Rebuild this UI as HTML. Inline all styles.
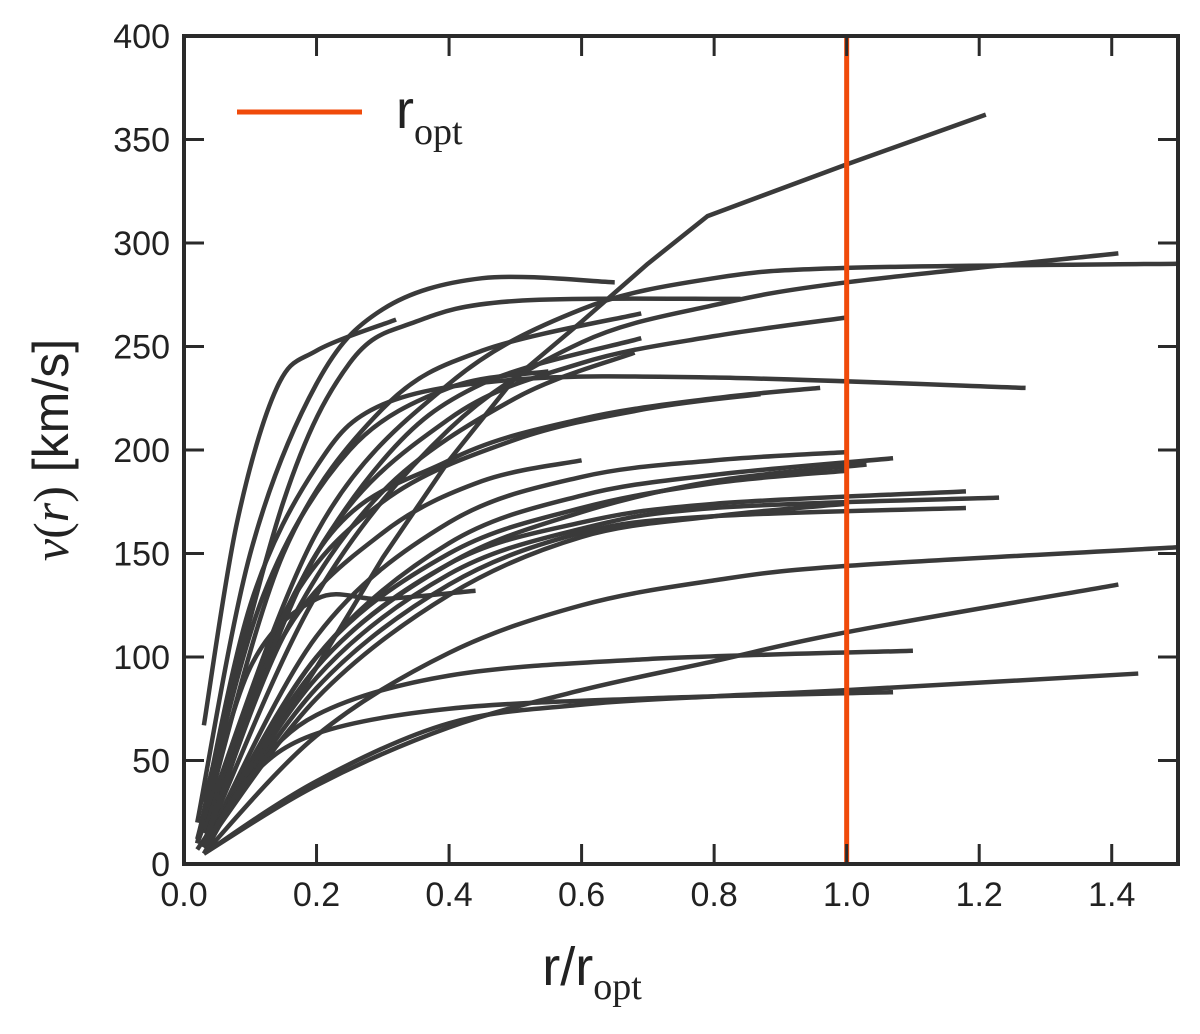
<!DOCTYPE html>
<html><head><meta charset="utf-8"><style>
body{margin:0;background:#fff;}
svg text{font-family:"Liberation Sans",sans-serif;}
</style></head><body>
<svg id="chart" width="1200" height="1034" viewBox="0 0 1200 1034" style="position:absolute;left:0;top:0">
<g id="curves"></g>
<g id="axes"></g>
</svg>
<script>
const xTicks=[0.0,0.2,0.4,0.6,0.8,1.0,1.2,1.4];
const yTicks=[0,50,100,150,200,250,300,350,400];
const rOpt=1.0;
const c1=[[0.02,7],[0.1,45],[0.2,95],[0.3,148],[0.4,195],[0.5,235],[0.6,262],[0.7,290],[0.79,313],[1.0,338],[1.21,362]];
const c2=[[0.02,20],[0.1,150],[0.2,232],[0.3,268],[0.45,283],[0.65,281]];
const c3=[[0.03,67],[0.08,165],[0.14,230],[0.2,248],[0.32,263]];
const c4=[[0.03,30],[0.15,175],[0.25,242],[0.35,262],[0.5,272],[0.84,273]];
const c5=[[0.02,10],[0.2,160],[0.4,232],[0.6,268],[0.8,283],[1.0,288],[1.5,290]];
const c6=[[0.03,10],[0.2,130],[0.4,210],[0.6,252],[0.8,270],[1.0,281],[1.41,295]];
const c7=[[0.03,10],[0.2,150],[0.4,215],[0.6,242],[0.8,255],[1.0,264]];
const c8=[[0.02,10],[0.1,125],[0.2,192],[0.3,222],[0.5,234],[0.8,235],[1.27,230]];
const c9=[[0.03,20],[0.15,150],[0.3,220],[0.45,248],[0.69,266]];
const c10=[[0.03,15],[0.15,120],[0.3,195],[0.45,232],[0.69,254]];
const c11=[[0.03,10],[0.15,110],[0.3,180],[0.5,225],[0.68,247]];
const c12=[[0.03,10],[0.15,120],[0.3,175],[0.5,205],[0.7,220],[0.87,227]];
const c13=[[0.03,10],[0.2,150],[0.4,195],[0.6,215],[0.8,225],[0.96,230]];
const c14=[[0.03,8],[0.2,110],[0.4,165],[0.6,187],[0.8,195],[1.0,199]];
const c15=[[0.03,8],[0.2,100],[0.4,155],[0.6,178],[0.8,188],[1.07,196]];
const c16=[[0.03,8],[0.2,95],[0.4,145],[0.6,170],[0.8,185],[1.03,193]];
const c17=[[0.03,8],[0.2,100],[0.4,150],[0.6,172],[0.8,184],[1.0,190]];
const c18=[[0.03,8],[0.2,95],[0.4,145],[0.6,165],[0.8,174],[1.18,180]];
const c19=[[0.03,8],[0.2,90],[0.4,140],[0.6,162],[0.8,172],[1.23,177]];
const c20=[[0.03,8],[0.2,85],[0.4,135],[0.6,160],[0.8,168],[1.18,172]];
const c21=[[0.03,8],[0.2,80],[0.4,130],[0.6,158],[0.8,168],[1.0,174]];
const c22=[[0.02,10],[0.1,95],[0.2,128],[0.3,128],[0.44,132]];
const c23=[[0.03,5],[0.2,62],[0.4,102],[0.6,125],[0.8,137],[1.0,144],[1.5,153]];
const c24=[[0.03,5],[0.2,38],[0.4,66],[0.6,84],[0.8,98],[1.0,112],[1.41,135]];
const c25=[[0.03,5],[0.1,42],[0.2,72],[0.4,91],[0.7,99],[1.1,103]];
const c26=[[0.03,5],[0.2,40],[0.4,68],[0.6,77],[0.8,81],[1.0,84],[1.44,92]];
const c27=[[0.03,8],[0.1,42],[0.2,63],[0.4,75],[0.7,80],[1.07,83]];
const c28=[[0.03,8],[0.15,110],[0.3,160],[0.45,185],[0.6,195]];
const c29=[[0.02,12],[0.12,130],[0.25,200],[0.4,230],[0.55,238]];
const curves=[c1,c2,c3,c4,c5,c6,c7,c8,c9,c10,c11,c12,c13,c14,c15,c16,c17,c18,c19,c20,c21,c22,c23,c24,c25,c26,c27,c28,c29];

const L=184,R=1178,T=36,B=864;
const sx=x=>L+x/1.5*(R-L);
const sy=v=>B-v/400*(B-T);
const NS="http://www.w3.org/2000/svg";
function mk(tag,attrs,parent){const e=document.createElementNS(NS,tag);for(const k in attrs)e.setAttribute(k,attrs[k]);parent.appendChild(e);return e;}
const cg=document.getElementById('curves');
function smooth(pts){
  const p=pts.map(([x,v])=>[sx(x),sy(v)]);
  let d=`M${p[0][0]},${p[0][1]}`;
  for(let i=0;i<p.length-1;i++){
    const p0=p[i-1]||p[i],p1=p[i],p2=p[i+1],p3=p[i+2]||p2;
    const c1x=p1[0]+(p2[0]-p0[0])/6,c1y=p1[1]+(p2[1]-p0[1])/6;
    const c2x=p2[0]-(p3[0]-p1[0])/6,c2y=p2[1]-(p3[1]-p1[1])/6;
    d+=` C${c1x},${c1y} ${c2x},${c2y} ${p2[0]},${p2[1]}`;
  }
  return d;
}
function linear(pts){return pts.map(([x,v],i)=>(i?'L':'M')+sx(x)+','+sy(v)).join(' ');}
curves.forEach((c,i)=>{
  const e=mk('path',{d:(i===0?linear(c):smooth(c)),fill:'none',stroke:'#3a3a3a','stroke-width':4.5,'stroke-linejoin':'round'},cg);
  
  
});
const ro=mk('line',{x1:sx(rOpt),x2:sx(rOpt),y1:T,y2:B,stroke:'#f04a0a','stroke-width':5},cg);



const ag=document.getElementById('axes');
xTicks.forEach(t=>{
  const x=sx(t);
  mk('line',{x1:x,x2:x,y1:B,y2:B-20,stroke:'#2a2a2a','stroke-width':3},ag);
  mk('line',{x1:x,x2:x,y1:T,y2:T+20,stroke:'#2a2a2a','stroke-width':3},ag);
  const tx=mk('text',{x:x,y:B+42,'text-anchor':'middle','font-size':34,fill:'#222'},ag);
  tx.textContent=t.toFixed(1);
  
  
});
yTicks.forEach(t=>{
  const y=sy(t);
  mk('line',{x1:L,x2:L+20,y1:y,y2:y,stroke:'#2a2a2a','stroke-width':3},ag);
  mk('line',{x1:R,x2:R-20,y1:y,y2:y,stroke:'#2a2a2a','stroke-width':3},ag);
  const tx=mk('text',{x:L-14,y:y+12,'text-anchor':'end','font-size':34,fill:'#222'},ag);
  tx.textContent=t;
  
  
});
const fr=mk('rect',{x:L,y:T,width:R-L,height:B-T,fill:'none',stroke:'#2a2a2a','stroke-width':4},ag);


</script>
<svg style="position:absolute;left:0;top:0" width="1200" height="1034">
<g>
<line x1="237" y1="112" x2="362" y2="112" stroke="#f04a0a" stroke-width="5"/>
<text x="396" y="128" font-size="54" fill="#222" font-family="Liberation Sans,sans-serif">r<tspan font-family="Liberation Serif,serif" font-size="38" dy="16">opt</tspan></text>
</g>
<text x="592" y="985" font-size="54" fill="#222" font-family="Liberation Sans,sans-serif" text-anchor="middle">r/r<tspan font-family="Liberation Serif,serif" font-size="38" dy="14">opt</tspan></text>
<text transform="translate(68,450) rotate(-90)" font-size="50" fill="#222" text-anchor="middle" font-family="Liberation Sans,sans-serif"><tspan font-family="Liberation Serif,serif" font-style="italic">v</tspan><tspan font-family="Liberation Serif,serif">(</tspan><tspan font-family="Liberation Serif,serif" font-style="italic">r</tspan><tspan font-family="Liberation Serif,serif">)</tspan> [km/s]</text>
</svg>
</body></html>
